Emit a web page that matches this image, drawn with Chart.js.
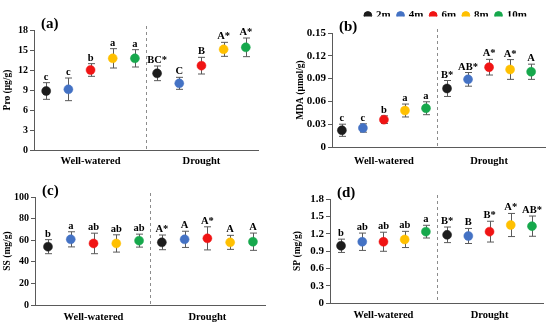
<!DOCTYPE html>
<html>
<head>
<meta charset="utf-8">
<script src="https://cdn.jsdelivr.net/npm/chart.js@4.4.0/dist/chart.umd.min.js"></script>
<style>
body { margin: 0; background: #fff; }
#wrap { position: relative; width: 550px; height: 325px; overflow: hidden; }
canvas { position: absolute; }
</style>
</head>
<body>
<div id="wrap">
  <canvas id="pa" width="275" height="170" style="left:0;top:0"></canvas>
  <canvas id="pb" width="275" height="170" style="left:275px;top:0"></canvas>
  <canvas id="pc" width="275" height="160" style="left:0;top:165px"></canvas>
  <canvas id="pd" width="275" height="160" style="left:275px;top:165px"></canvas>
  <canvas id="leg" width="220" height="30" style="left:336px;top:0"></canvas>
</div>
<script>
// data
const lengths = ['2m', '4m', '6m', '8m', '10m'];
const treatments = ['Well-watered', 'Drought'];

const proWW = [8.85, 9.1, 12.0, 13.75, 13.75];
const proWWErr = [1.25, 1.7, 0.95, 1.45, 1.3];
const proD = [11.5, 10.0, 12.65, 15.1, 15.4];
const proDErr = [1.1, 0.9, 1.25, 1.05, 1.4];
const proWWSig = ['c', 'c', 'b', 'a', 'a'];
const proDSig = ['BC*', 'C', 'B', 'A*', 'A*'];

const mdaWW = [0.022, 0.025, 0.036, 0.048, 0.051];
const mdaWWErr = [0.008, 0.0055, 0.005, 0.0085, 0.0085];
const mdaD = [0.077, 0.089, 0.105, 0.102, 0.099];
const mdaDErr = [0.0105, 0.009, 0.0103, 0.013, 0.01];
const mdaWWSig = ['c', 'c', 'b', 'a', 'a'];
const mdaDSig = ['B*', 'AB*', 'A*', 'A*', 'A'];

const ssWW = [54, 60.8, 57, 57, 59.6];
const ssWWErr = [6.5, 7, 9.5, 8, 6];
const ssD = [58, 60.8, 61.7, 58, 58.6];
const ssDErr = [6.8, 7.5, 10.7, 6.5, 8];
const ssWWSig = ['b', 'a', 'ab', 'ab', 'ab'];
const ssDSig = ['A*', 'A', 'A*', 'A', 'A'];

const spWW = [0.99, 1.06, 1.06, 1.10, 1.235];
const spWWErr = [0.115, 0.15, 0.165, 0.14, 0.11];
const spD = [1.18, 1.16, 1.235, 1.35, 1.33];
const spDErr = [0.135, 0.13, 0.18, 0.2, 0.175];
const spWWSig = ['b', 'ab', 'ab', 'ab', 'a'];
const spDSig = ['B*', 'B', 'B*', 'A*', 'AB*'];

const colors = ['#1c1c1c', '#4472C4', '#F01414', '#FFC000', '#16A84C'];
const serif = '"Liberation Serif", "Times New Roman", serif';

// error bars, letters, dashed divider, panel label
const extras = {
    id: 'extras',
    beforeDatasetsDraw(chart, args, o) {
        const { ctx, chartArea: a, scales: { x, y } } = chart;
        ctx.save();
        const dx = Math.round(x.getPixelForValue(o.divider)) + 0.5;
        ctx.strokeStyle = '#8c8c8c';
        ctx.lineWidth = 1;
        ctx.setLineDash([3, 3]);
        ctx.beginPath();
        ctx.moveTo(dx, a.top - 4);
        ctx.lineTo(dx, a.bottom);
        ctx.stroke();
        ctx.setLineDash([]);
        ctx.strokeStyle = '#5a5a5a';
        chart.data.datasets.forEach((ds, i) => {
            ds.data.forEach((p, j) => {
                const e = o.err[j][i];
                const px = Math.round(x.getPixelForValue(p.x)) + 0.5;
                const t = y.getPixelForValue(p.y + e);
                const b = y.getPixelForValue(p.y - e);
                ctx.beginPath();
                ctx.moveTo(px, t); ctx.lineTo(px, b);
                ctx.moveTo(px - 3.5, t); ctx.lineTo(px + 3.5, t);
                ctx.moveTo(px - 3.5, b); ctx.lineTo(px + 3.5, b);
                ctx.stroke();
            });
        });
        ctx.restore();
    },
    afterDatasetsDraw(chart, args, o) {
        const { ctx, scales: { x, y } } = chart;
        ctx.save();
        ctx.fillStyle = '#000';
        ctx.font = `bold ${o.sigSize}px ${serif}`;
        ctx.textAlign = 'center';
        ctx.textBaseline = 'alphabetic';
        chart.data.datasets.forEach((ds, i) => {
            ds.data.forEach((p, j) => {
                const t = y.getPixelForValue(p.y + o.err[j][i]);
                ctx.fillText(o.sig[j][i], x.getPixelForValue(p.x), t - 3);
            });
        });
        ctx.restore();
    },
    afterDraw(chart, args, o) {
        const { ctx, chartArea: a } = chart;
        ctx.save();
        ctx.fillStyle = '#000';
        ctx.font = `bold 15px ${serif}`;
        ctx.textAlign = 'left';
        ctx.textBaseline = 'middle';
        ctx.fillText(o.label, a.left + 7, a.top - 6);
        ctx.restore();
    }
};

function makePanel(id, p) {
    let datasets = lengths.map((l, i) => ({
        label: l,
        data: [{ x: i + 1, y: p.ww[i] }, { x: i + 6, y: p.d[i] }],
        backgroundColor: colors[i],
        borderColor: colors[i],
        borderWidth: 0.5,
        pointRadius: 4.5,
        pointHoverRadius: 4.5
    }));
    return new Chart(document.getElementById(id), {
        type: 'scatter',
        data: { datasets: datasets },
        options: {
            responsive: false,
            animation: false,
            layout: { padding: p.pad },
            scales: {
                x: {
                    type: 'linear',
                    min: p.xMin,
                    max: p.xMax,
                    afterBuildTicks: s => { s.ticks = [{ value: 3 }, { value: 8 }]; },
                    afterFit: s => { s.height = p.xH; },
                    grid: { display: false, drawTicks: false, tickLength: 0 },
                    border: { display: true, color: '#5a5a5a' },
                    ticks: {
                        autoSkip: false,
                        maxRotation: 0,
                        padding: p.xPad,
                        color: '#000',
                        font: { family: serif, weight: 'bold', size: 10.5 },
                        callback: v => v === 3 ? treatments[0] : treatments[1]
                    }
                },
                y: {
                    min: 0,
                    max: p.yMax,
                    afterFit: s => { s.width = p.yW; },
                    grid: { drawOnChartArea: false, drawTicks: true, tickLength: 4, color: '#5a5a5a' },
                    border: { display: true, color: '#5a5a5a' },
                    ticks: {
                        stepSize: p.yStep,
                        padding: 2,
                        color: '#000',
                        font: { family: serif, weight: 'bold', size: p.tickSize },
                        callback: v => v === 0 ? '0' : v.toFixed(p.dec)
                    },
                    title: {
                        display: true,
                        text: p.title,
                        color: '#000',
                        padding: { top: 2, bottom: 0 },
                        font: { family: serif, weight: 'bold', size: 9.5 }
                    }
                }
            },
            plugins: {
                legend: { display: false },
                tooltip: { enabled: false },
                extras: {
                    err: [p.wwErr, p.dErr],
                    sig: [p.wwSig, p.dSig],
                    divider: 5.5,
                    label: p.label,
                    sigSize: 10.5
                }
            }
        },
        plugins: [extras]
    });
}

makePanel('pa', {
    ww: proWW, d: proD, wwErr: proWWErr, dErr: proDErr, wwSig: proWWSig, dSig: proDSig,
    yMax: 18, yStep: 3, dec: 0, title: 'Pro (μg/g)', label: '(a)', tickSize: 10,
    pad: { left: 0, right: 17, top: 30, bottom: 0 }, yW: 34, xH: 20, xPad: 4.5,
    xMin: 0.45, xMax: 10.55
});
makePanel('pb', {
    ww: mdaWW, d: mdaD, wwErr: mdaWWErr, dErr: mdaDErr, wwSig: mdaWWSig, dSig: mdaDSig,
    yMax: 0.15, yStep: 0.03, dec: 2, title: 'MDA (μmol/g)', label: '(b)', tickSize: 11,
    pad: { left: 18, right: 2, top: 33, bottom: 0 }, yW: 39, xH: 23, xPad: 7.5,
    xMin: 0.53, xMax: 10.66
});
makePanel('pc', {
    ww: ssWW, d: ssD, wwErr: ssWWErr, dErr: ssDErr, wwSig: ssWWSig, dSig: ssDSig,
    yMax: 100, yStep: 20, dec: 0, title: 'SS (mg/g)', label: '(c)', tickSize: 10,
    pad: { left: 0, right: 10, top: 32, bottom: 0 }, yW: 35, xH: 20, xPad: 5.5,
    xMin: 0.43, xMax: 10.53
});
makePanel('pd', {
    ww: spWW, d: spD, wwErr: spWWErr, dErr: spDErr, wwSig: spWWSig, dSig: spDSig,
    yMax: 1.8, yStep: 0.3, dec: 1, title: 'SP (mg/g)', label: '(d)', tickSize: 11,
    pad: { left: 15, right: 7, top: 34, bottom: 0 }, yW: 40, xH: 22, xPad: 5.5,
    xMin: 0.48, xMax: 10.52
});

// shared legend
new Chart(document.getElementById('leg'), {
    type: 'scatter',
    data: {
        datasets: lengths.map((l, i) => ({ label: l, data: [], backgroundColor: colors[i], borderColor: colors[i] }))
    },
    options: {
        responsive: false,
        animation: false,
        layout: { padding: { top: 3 } },
        scales: { x: { display: false }, y: { display: false } },
        plugins: {
            tooltip: { enabled: false },
            legend: {
                display: true,
                labels: {
                    usePointStyle: true,
                    pointStyle: 'circle',
                    boxWidth: 5.5,
                    boxHeight: 5.5,
                    padding: 7,
                    color: '#000',
                    font: { family: serif, weight: 'bold', size: 11 }
                }
            }
        }
    }
});
</script>
</body>
</html>
